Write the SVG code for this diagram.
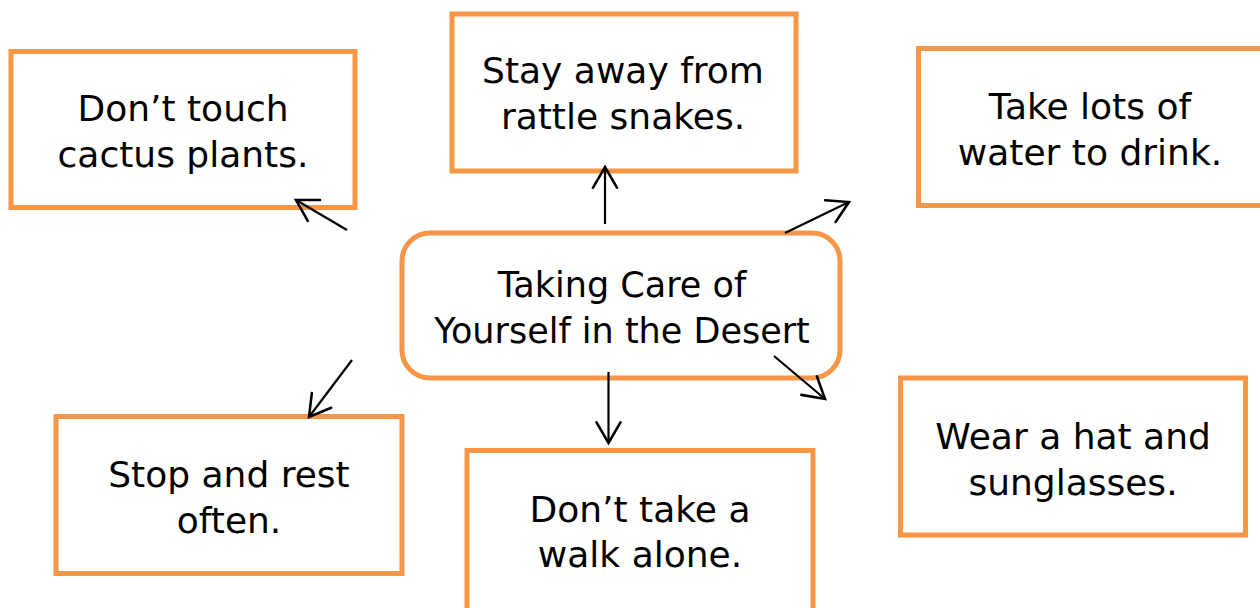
<svg xmlns="http://www.w3.org/2000/svg" width="1260" height="608" viewBox="0 0 1260 608">
  <style>
    .box { fill: #ffffff; stroke: #F79646; stroke-width: 5; }
    .lbl { font-family: "DejaVu Sans", "Liberation Sans", sans-serif; font-size: 36px; fill: #000000; text-anchor: middle; }
    .ctr { font-size: 35px; }
    .con { stroke: #000000; stroke-width: 2.2; fill: none; marker-end: url(#arr); }
  </style>
  <defs>
    <marker id="arr" markerUnits="userSpaceOnUse" markerWidth="30" markerHeight="30" viewBox="-22 -13 26 26" refX="0" refY="0" orient="auto">
      <path d="M-18,-10.5 L0,0 L-18,10.5" fill="none" stroke="#000000" stroke-width="2.2" stroke-linecap="round" stroke-linejoin="miter"/>
    </marker>
  </defs>
  <rect x="0" y="0" width="1260" height="608" fill="#ffffff"/>

  <g id="node-cactus">
    <rect class="box" x="11" y="51.5" width="344" height="156"/>
    <text class="lbl" x="183" y="121">Don’t touch</text>
    <text class="lbl" x="183" y="167">cactus plants.</text>
  </g>
  <g id="node-snakes">
    <rect class="box" x="452" y="14" width="344" height="157"/>
    <text class="lbl" x="623" y="83">Stay away from</text>
    <text class="lbl" x="623" y="129">rattle snakes.</text>
  </g>
  <g id="node-water">
    <rect class="box" x="918.5" y="48.5" width="344" height="157"/>
    <text class="lbl" x="1090" y="119">Take lots of</text>
    <text class="lbl" x="1090" y="165">water to drink.</text>
  </g>
  <g id="node-center">
    <rect class="box" x="402" y="233" width="438" height="145" rx="28" ry="28"/>
    <text class="lbl ctr" x="622" y="297">Taking Care of</text>
    <text class="lbl ctr" x="622" y="343">Yourself in the Desert</text>
  </g>
  <g id="node-rest">
    <rect class="box" x="56" y="416.5" width="346" height="157"/>
    <text class="lbl" x="229" y="487">Stop and rest</text>
    <text class="lbl" x="229" y="533">often.</text>
  </g>
  <g id="node-walk">
    <rect class="box" x="467" y="450.5" width="346" height="165"/>
    <text class="lbl" x="640" y="522">Don’t take a</text>
    <text class="lbl" x="640" y="567">walk alone.</text>
  </g>
  <g id="node-hat">
    <rect class="box" x="900.5" y="378" width="345" height="157"/>
    <text class="lbl" x="1073" y="449">Wear a hat and</text>
    <text class="lbl" x="1073" y="495">sunglasses.</text>
  </g>

  <g id="connectors">
    <line class="con" x1="347" y1="230" x2="296" y2="200"/>
    <line class="con" x1="605" y1="224" x2="605" y2="167"/>
    <line class="con" x1="785" y1="233" x2="849" y2="202"/>
    <line class="con" x1="352" y1="360" x2="309" y2="417"/>
    <line class="con" x1="608.5" y1="372" x2="608.5" y2="443"/>
    <line class="con" x1="774" y1="356" x2="825" y2="399"/>
  </g>
</svg>
